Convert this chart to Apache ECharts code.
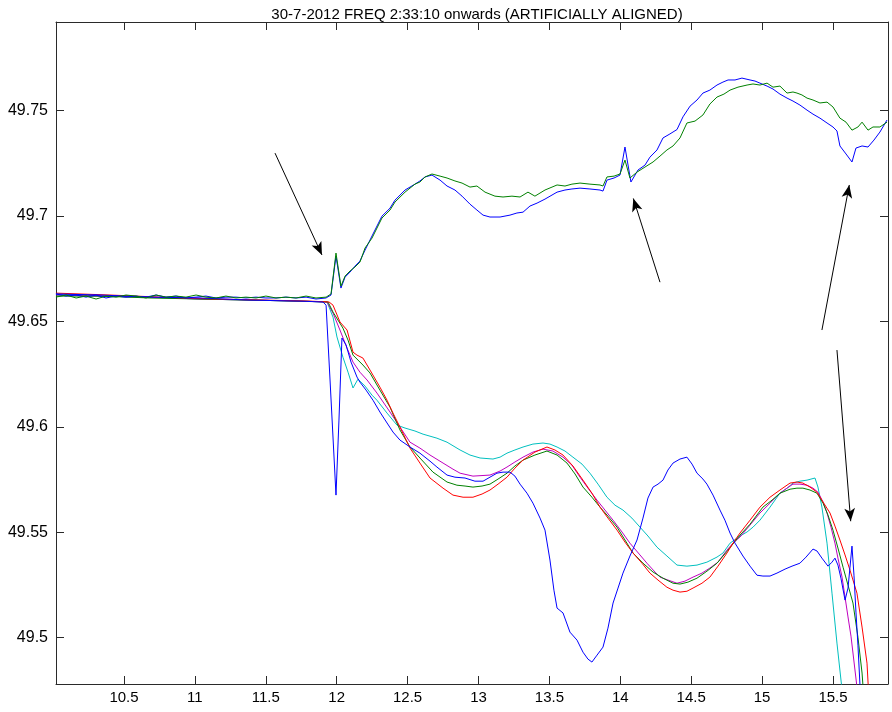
<!DOCTYPE html>
<html><head><meta charset="utf-8">
<script src="https://cdn.jsdelivr.net/npm/echarts@6/dist/echarts.min.js"></script>
<style>html,body{margin:0;padding:0;background:#fff}#c{width:892px;height:712px}</style>
</head><body><div id="c"></div>
<script>
const titleText = '30-7-2012 FREQ 2:33:10 onwards (ARTIFICIALLY ALIGNED)';
const xTicks = [10.5, 11, 11.5, 12, 12.5, 13, 13.5, 14, 14.5, 15, 15.5];
const yTicks = [49.5, 49.55, 49.6, 49.65, 49.7, 49.75];

// upper green
const ugX = [10.020,10.091,10.162,10.232,10.303,10.373,10.444,10.514,10.585,10.655,10.726,10.796,10.867,10.937,11.008,11.078,11.149,11.219,11.290,11.360,11.431,11.501,11.572,11.642,11.713,11.784,11.854,11.925,11.960,11.995,12.030,12.059,12.094,12.129,12.164,12.200,12.249,12.319,12.376,12.411,12.482,12.552,12.587,12.623,12.672,12.729,12.778,12.834,12.884,12.940,12.989,13.046,13.116,13.173,13.236,13.293,13.349,13.398,13.469,13.554,13.610,13.659,13.716,13.786,13.857,13.878,13.906,13.956,13.998,14.033,14.068,14.118,14.174,14.231,14.280,14.329,14.372,14.421,14.470,14.527,14.583,14.632,14.682,14.731,14.774,14.830,14.894,14.936,14.985,15.035,15.077,15.126,15.176,15.218,15.246,15.281,15.317,15.359,15.408,15.458,15.500,15.549,15.592,15.634,15.676,15.705,15.747,15.782,15.831,15.881];
const ugY = [49.6615,49.6625,49.6611,49.6620,49.6606,49.6620,49.6615,49.6625,49.6620,49.6611,49.6625,49.6615,49.6620,49.6615,49.6625,49.6615,49.6611,49.6620,49.6611,49.6615,49.6611,49.6620,49.6611,49.6615,49.6611,49.6620,49.6611,49.6615,49.6630,49.6824,49.6667,49.6715,49.6739,49.6758,49.6781,49.6848,49.6895,49.6990,49.7028,49.7066,49.7113,49.7151,49.7161,49.7185,49.7199,49.7189,49.7180,49.7166,49.7156,49.7137,49.7142,49.7113,49.7094,49.7090,49.7094,49.7090,49.7113,49.7094,49.7123,49.7147,49.7142,49.7151,49.7156,49.7151,49.7147,49.7142,49.7185,49.7189,49.7199,49.7265,49.7180,49.7208,49.7232,49.7256,49.7284,49.7313,49.7332,49.7370,49.7441,49.7450,49.7479,49.7531,49.7564,49.7578,49.7597,49.7611,49.7621,49.7626,49.7621,49.7630,49.7611,49.7616,49.7583,49.7588,49.7583,49.7574,49.7559,49.7550,49.7536,49.7540,49.7517,49.7464,49.7445,49.7407,49.7422,49.7445,49.7407,49.7422,49.7422,49.7445];

// upper blue
const ubX = [10.020,10.091,10.162,10.232,10.303,10.373,10.444,10.514,10.585,10.655,10.726,10.796,10.867,10.937,11.008,11.078,11.149,11.219,11.290,11.360,11.431,11.501,11.572,11.642,11.713,11.784,11.854,11.925,11.960,11.995,12.030,12.059,12.094,12.129,12.164,12.200,12.249,12.319,12.376,12.411,12.482,12.552,12.587,12.623,12.672,12.729,12.778,12.834,12.884,12.940,12.989,13.032,13.081,13.152,13.222,13.271,13.314,13.363,13.413,13.469,13.554,13.610,13.659,13.716,13.786,13.857,13.878,13.906,13.956,13.998,14.033,14.075,14.125,14.174,14.209,14.259,14.301,14.350,14.400,14.442,14.492,14.541,14.583,14.632,14.682,14.724,14.760,14.809,14.858,14.915,14.950,14.985,15.035,15.077,15.126,15.176,15.218,15.267,15.317,15.359,15.408,15.458,15.500,15.528,15.549,15.592,15.634,15.662,15.705,15.747,15.789,15.831,15.881];
const ubY = [49.6630,49.6620,49.6625,49.6615,49.6625,49.6611,49.6620,49.6615,49.6620,49.6615,49.6625,49.6615,49.6620,49.6611,49.6615,49.6620,49.6611,49.6615,49.6615,49.6611,49.6615,49.6611,49.6611,49.6615,49.6611,49.6615,49.6606,49.6611,49.6625,49.6810,49.6658,49.6710,49.6734,49.6762,49.6786,49.6838,49.6905,49.6999,49.7037,49.7075,49.7123,49.7151,49.7166,49.7185,49.7194,49.7170,49.7142,49.7123,49.7094,49.7056,49.7028,49.7004,49.6995,49.6995,49.7004,49.7014,49.7018,49.7047,49.7061,49.7080,49.7113,49.7123,49.7128,49.7132,49.7128,49.7123,49.7118,49.7170,49.7180,49.7194,49.7327,49.7161,49.7218,49.7241,49.7279,49.7313,49.7370,49.7389,49.7410,49.7470,49.7521,49.7550,49.7583,49.7597,49.7621,49.7635,49.7645,49.7645,49.7654,49.7645,49.7640,49.7630,49.7616,49.7602,49.7578,49.7559,49.7545,49.7526,49.7502,49.7483,49.7464,49.7441,49.7422,49.7403,49.7332,49.7294,49.7256,49.7322,49.7332,49.7327,49.7360,49.7398,49.7455];

// lower blue
const lbX = [10.020,10.331,10.683,11.036,11.389,11.741,11.903,11.925,11.953,11.995,12.016,12.037,12.066,12.101,12.143,12.164,12.207,12.256,12.305,12.355,12.397,12.446,12.517,12.587,12.658,12.707,12.778,12.834,12.905,12.975,13.032,13.081,13.130,13.173,13.222,13.257,13.293,13.342,13.384,13.434,13.469,13.504,13.532,13.554,13.596,13.645,13.695,13.737,13.772,13.800,13.836,13.878,13.913,13.949,13.984,14.019,14.068,14.118,14.160,14.195,14.231,14.266,14.301,14.336,14.372,14.421,14.470,14.506,14.541,14.583,14.611,14.654,14.703,14.738,14.774,14.809,14.865,14.915,14.964,15.006,15.056,15.105,15.162,15.211,15.267,15.310,15.359,15.387,15.422,15.465,15.493,15.514,15.535,15.556,15.585,15.606,15.620,15.634,15.648,15.662,15.676,15.690,15.697];
const lbY = [49.6630,49.6625,49.6615,49.6611,49.6601,49.6596,49.6592,49.6577,49.6222,49.5676,49.6032,49.6421,49.6388,49.6307,49.6236,49.6212,49.6174,49.6126,49.6070,49.6018,49.5975,49.5937,49.5904,49.5875,49.5837,49.5809,49.5771,49.5761,49.5757,49.5742,49.5742,49.5761,49.5780,49.5785,49.5785,49.5766,49.5728,49.5685,49.5638,49.5567,49.5510,49.5368,49.5225,49.5140,49.5117,49.5026,49.4988,49.4931,49.4898,49.4884,49.4917,49.4955,49.5045,49.5164,49.5235,49.5306,49.5387,49.5463,49.5567,49.5662,49.5714,49.5728,49.5747,49.5795,49.5828,49.5847,49.5856,49.5823,49.5780,49.5752,49.5728,49.5676,49.5605,49.5557,49.5496,49.5448,49.5387,49.5339,49.5296,49.5292,49.5292,49.5306,49.5325,49.5339,49.5353,49.5382,49.5420,49.5411,49.5377,49.5339,49.5358,49.5377,49.5344,49.5282,49.5178,49.5235,49.5334,49.5434,49.5296,49.5121,49.4964,49.4780,49.4704];

// lower cyan
const lcX = [10.020,10.331,10.683,11.036,11.389,11.741,11.932,11.974,12.002,12.044,12.080,12.115,12.150,12.200,12.249,12.284,12.355,12.425,12.482,12.552,12.609,12.707,12.778,12.870,12.940,13.011,13.102,13.152,13.201,13.257,13.314,13.384,13.455,13.504,13.554,13.610,13.666,13.730,13.786,13.843,13.906,13.963,14.019,14.082,14.139,14.195,14.259,14.329,14.400,14.470,14.541,14.611,14.682,14.724,14.774,14.844,14.894,14.936,14.985,15.056,15.126,15.176,15.218,15.267,15.317,15.373,15.394,15.422,15.458,15.493,15.528,15.564];
const lcY = [49.6630,49.6620,49.6615,49.6606,49.6601,49.6596,49.6592,49.6520,49.6426,49.6330,49.6259,49.6184,49.6226,49.6193,49.6150,49.6126,49.6065,49.6008,49.5994,49.5980,49.5965,49.5946,49.5927,49.5890,49.5866,49.5852,49.5847,49.5856,49.5875,49.5890,49.5904,49.5918,49.5923,49.5918,49.5904,49.5885,49.5856,49.5823,49.5780,49.5728,49.5666,49.5628,49.5605,49.5567,49.5524,49.5482,49.5429,49.5387,49.5344,49.5339,49.5344,49.5358,49.5382,49.5401,49.5448,49.5482,49.5501,49.5524,49.5557,49.5619,49.5685,49.5709,49.5733,49.5742,49.5747,49.5757,49.5714,49.5619,49.5448,49.5211,49.4974,49.4752];

// lower magenta
const lmX = [10.020,10.331,10.683,11.036,11.389,11.741,11.932,11.974,12.023,12.073,12.115,12.164,12.214,12.284,12.376,12.446,12.517,12.587,12.658,12.750,12.820,12.870,12.961,13.081,13.152,13.201,13.257,13.314,13.384,13.455,13.525,13.596,13.659,13.716,13.772,13.836,13.892,13.949,14.012,14.068,14.139,14.188,14.245,14.280,14.336,14.400,14.456,14.513,14.576,14.632,14.689,14.752,14.795,14.844,14.915,14.985,15.056,15.126,15.176,15.218,15.267,15.317,15.359,15.394,15.430,15.458,15.486,15.514,15.535,15.564,15.585,15.606,15.627,15.641,15.669,15.676];
const lmY = [49.6625,49.6620,49.6615,49.6606,49.6601,49.6596,49.6592,49.6539,49.6459,49.6373,49.6307,49.6259,49.6222,49.6160,49.6070,49.5999,49.5927,49.5899,49.5866,49.5828,49.5799,49.5780,49.5766,49.5771,49.5790,49.5809,49.5833,49.5856,49.5880,49.5894,49.5885,49.5856,49.5818,49.5761,49.5709,49.5652,49.5605,49.5557,49.5501,49.5448,49.5392,49.5353,49.5311,49.5287,49.5273,49.5258,49.5268,49.5287,49.5306,49.5330,49.5358,49.5415,49.5448,49.5477,49.5534,49.5591,49.5638,49.5685,49.5709,49.5728,49.5728,49.5723,49.5709,49.5690,49.5643,49.5591,49.5524,49.5448,49.5377,49.5287,49.5192,49.5098,49.5007,49.4927,49.4766,49.4704];

// lower green
const lgX = [10.020,10.331,10.683,11.036,11.389,11.741,11.939,11.974,12.044,12.080,12.115,12.185,12.235,12.305,12.376,12.446,12.517,12.587,12.679,12.778,12.848,12.905,12.961,13.025,13.081,13.138,13.201,13.257,13.314,13.398,13.483,13.554,13.624,13.681,13.737,13.800,13.857,13.913,13.977,14.033,14.090,14.160,14.231,14.301,14.372,14.421,14.477,14.541,14.611,14.682,14.760,14.844,14.915,15.006,15.070,15.126,15.197,15.246,15.288,15.338,15.387,15.430,15.465,15.500,15.535,15.571,15.606,15.641,15.676,15.705,15.719];
const lgY = [49.6620,49.6620,49.6611,49.6606,49.6601,49.6596,49.6592,49.6544,49.6468,49.6411,49.6340,49.6293,49.6255,49.6174,49.6093,49.5985,49.5904,49.5852,49.5785,49.5738,49.5723,49.5719,49.5714,49.5719,49.5728,49.5752,49.5780,49.5814,49.5842,49.5866,49.5885,49.5866,49.5828,49.5776,49.5714,49.5666,49.5619,49.5576,49.5524,49.5463,49.5401,49.5353,49.5311,49.5282,49.5258,49.5254,49.5263,49.5282,49.5315,49.5353,49.5415,49.5486,49.5538,49.5619,49.5652,49.5685,49.5704,49.5709,49.5709,49.5700,49.5685,49.5638,49.5581,49.5510,49.5425,49.5334,49.5249,49.5164,49.5002,49.4832,49.4704];

// lower red
const lrX = [10.020,10.401,10.754,11.142,11.494,11.812,11.946,11.974,12.023,12.073,12.115,12.143,12.185,12.235,12.305,12.355,12.397,12.446,12.517,12.587,12.658,12.750,12.820,12.891,12.961,13.025,13.081,13.138,13.201,13.257,13.314,13.398,13.483,13.539,13.596,13.666,13.737,13.800,13.857,13.913,13.977,14.033,14.090,14.153,14.209,14.266,14.329,14.372,14.421,14.470,14.513,14.576,14.632,14.689,14.752,14.795,14.844,14.915,14.985,15.056,15.126,15.197,15.246,15.288,15.338,15.387,15.430,15.479,15.514,15.549,15.585,15.620,15.669,15.705,15.740,15.754];
const lrY = [49.6634,49.6625,49.6615,49.6606,49.6601,49.6596,49.6592,49.6577,49.6497,49.6459,49.6354,49.6340,49.6326,49.6269,49.6188,49.6126,49.6065,49.5999,49.5899,49.5828,49.5757,49.5709,49.5676,49.5666,49.5666,49.5681,49.5700,49.5728,49.5761,49.5804,49.5842,49.5880,49.5904,49.5890,49.5866,49.5814,49.5747,49.5685,49.5619,49.5567,49.5510,49.5453,49.5401,49.5353,49.5306,49.5273,49.5239,49.5225,49.5216,49.5220,49.5235,49.5258,49.5287,49.5339,49.5401,49.5448,49.5496,49.5557,49.5619,49.5666,49.5700,49.5733,49.5738,49.5733,49.5714,49.5690,49.5643,49.5591,49.5529,49.5463,49.5392,49.5320,49.5211,49.5050,49.4879,49.4704];

// annotation arrows: [x1, y1, x2 (head), y2 (head)]
const arrows = [
  [11.565, 49.7298, 11.896, 49.6815],
  [14.280, 49.6686, 14.092, 49.7083],
  [15.422, 49.6459, 15.615, 49.7147],
  [15.528, 49.6364, 15.625, 49.5552]
];

const xMin = 10.0204, xMax = 15.888, yMin = 49.478, yMax = 49.792;

function zip(xs, ys) { return xs.map((x, i) => [x, ys[i]]); }
const FONT = 'Liberation Sans';
const frame = { show: true, lineStyle: { color: '#2a2a2a', width: 1 } };

function xAx(pos, lab) {
  return { type: 'value', min: xMin, max: xMax, position: pos, axisLine: Object.assign({onZero:false}, frame),
    axisTick: { show: true, inside: true, length: 8, customValues: xTicks, lineStyle: { color: '#2a2a2a' } },
    axisLabel: { show: lab, customValues: xTicks, color: '#000', fontFamily: FONT, fontSize: 15, margin: 6 },
    splitLine: { show: false } };
}
function yAx(pos, lab) {
  return { type: 'value', min: yMin, max: yMax, position: pos, axisLine: Object.assign({onZero:false}, frame),
    axisTick: { show: true, inside: true, length: 8, customValues: yTicks, lineStyle: { color: '#2a2a2a' } },
    axisLabel: { show: lab, customValues: yTicks, color: '#000', fontFamily: FONT, fontSize: 16, margin: 8 },
    splitLine: { show: false } };
}

function line(name, xs, ys, color) {
  return { name, type: 'line', data: zip(xs, ys), showSymbol: false, symbol: 'none',
    lineStyle: { color, width: 1 }, itemStyle: { color }, xAxisIndex: 0, yAxisIndex: 0, clip: true, silent: true };
}

const series = [
  line('cyan', lcX, lcY, '#00BFBF'),
  line('magenta', lmX, lmY, '#BF00BF'),
  line('green2', lgX, lgY, '#008000'),
  line('red', lrX, lrY, '#FF0000'),
  line('blue2', lbX, lbY, '#0000FF'),
  line('blue1', ubX, ubY, '#0000FF'),
  line('green1', ugX, ugY, '#008000')
];
series[6].markLine = {
  silent: true, symbol: ['none', 'arrow'], symbolSize: [8, 13],
  lineStyle: { color: '#000', width: 1, type: 'solid' }, label: { show: false },
  emphasis: { disabled: true },
  data: arrows.map(a => [{ coord: [a[0], a[1]] }, { coord: [a[2], a[3]] }])
};

const chart = echarts.init(document.getElementById('c'), null, { renderer: 'canvas' });
chart.setOption({
  animation: false,
  backgroundColor: '#fff',
  title: { text: titleText, left: 472, top: 2, textAlign: 'center',
    textStyle: { fontFamily: FONT, fontSize: 15, fontWeight: 'normal', color: '#000' } },
  grid: { left: 56, right: 4, top: 22, bottom: 28, containLabel: false },
  xAxis: [xAx('bottom', true), xAx('top', false)],
  yAxis: [yAx('left', true), yAx('right', false)],
  series
});
</script></body></html>
